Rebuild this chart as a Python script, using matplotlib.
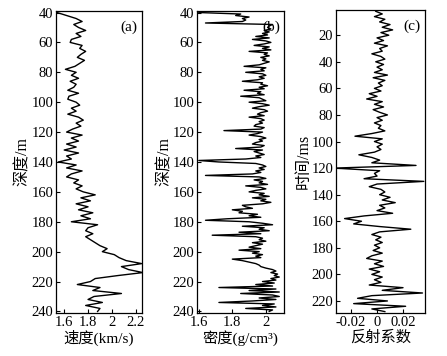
import numpy as np
import matplotlib
matplotlib.use("Agg")
import matplotlib.pyplot as plt

plt.rcParams['font.family'] = ['Liberation Serif', 'Noto Sans CJK SC']
plt.rcParams['font.size'] = 10.5

# (a) velocity log, km/s, every 2 m from 40 to 240 m
depth_a = np.arange(40, 241, 2)
vel = [1.54, 1.62, 1.70, 1.75, 1.68,
       1.72, 1.78, 1.70, 1.74, 1.66,
       1.65, 1.75, 1.73, 1.78, 1.74,
       1.71, 1.77, 1.73, 1.69, 1.61,
       1.70, 1.66, 1.72, 1.65, 1.70,
       1.68, 1.63, 1.72, 1.64, 1.63,
       1.70, 1.73, 1.66, 1.70, 1.63,
       1.72, 1.76, 1.70, 1.74, 1.67,
       1.62, 1.75, 1.66, 1.72, 1.62,
       1.70, 1.60, 1.72, 1.62, 1.66,
       1.55, 1.70, 1.62, 1.75, 1.66,
       1.62, 1.72, 1.68, 1.75, 1.70,
       1.76, 1.86, 1.74, 1.82, 1.70,
       1.80, 1.72, 1.84, 1.74, 1.82,
       1.66, 1.88, 1.80, 1.78, 1.84,
       1.78, 1.82, 1.86, 1.90, 1.96,
       1.92, 2.02, 2.06, 2.12, 2.25,
       2.08, 2.14, 2.26, 2.05, 1.86,
       1.82, 1.71, 1.90, 1.84, 2.08,
       1.85, 1.80, 1.92, 1.78, 1.90,
       1.88]

# (b) density log, g/cm3, every 1 m from 40 to 240 m
depth_b = np.arange(40, 241, 1)
dens = [1.60, 1.85, 1.82, 1.90, 1.86, 1.88, 1.86, 1.64, 2.04, 2.02,
        2.01, 2.03, 1.99, 2.02, 1.98, 2.01, 1.94, 2.02, 1.92, 2.00,
        2.03, 1.99, 1.93, 2.02, 1.98, 2.03, 1.90, 2.01, 1.99, 2.02,
        1.97, 2.00, 1.98, 2.02, 1.99, 1.96, 1.87, 2.00, 1.97, 1.99,
        1.88, 1.98, 2.00, 1.96, 1.99, 1.95, 1.86, 1.98, 1.97, 2.01,
        1.96, 1.99, 1.87, 1.97, 1.95, 1.99, 1.85, 1.96, 1.98, 2.00,
        1.90, 1.98, 2.02, 1.96, 1.92, 1.99, 2.01, 1.97, 1.95, 1.99,
        1.90, 1.97, 1.99, 1.96, 1.98, 1.94, 1.93, 1.99, 1.97, 1.75,
        1.98, 1.95, 1.90, 1.97, 2.00, 1.96, 1.98, 1.94, 1.92, 1.99,
        1.97, 1.82, 1.98, 1.93, 1.96, 1.99, 1.94, 1.97, 1.88, 1.60,
        1.72, 1.94, 1.98, 2.00, 1.96, 1.99, 1.94, 1.97, 1.92, 1.64,
        1.96, 2.00, 1.93, 1.98, 1.96, 2.01, 1.88, 1.97, 2.00, 1.94,
        1.90, 1.99, 1.96, 2.02, 1.92, 2.00, 1.97, 2.03, 1.98, 1.86,
        1.88, 1.92, 1.80, 1.86, 1.84, 1.95, 1.90, 1.97, 1.77, 1.64,
        1.90, 1.98, 2.04, 1.86, 1.99, 1.96, 2.02, 1.84, 1.97, 1.68,
        1.94, 1.98, 1.96, 2.00, 1.92, 1.98, 1.94, 1.90, 1.97, 1.84,
        1.96, 1.92, 1.98, 1.94, 1.97, 1.80, 1.86, 1.90, 1.94, 1.96,
        1.97, 2.00, 2.04, 2.06, 2.03, 2.07, 2.05, 2.08, 2.03, 2.06,
        1.98, 2.05, 1.94, 2.04, 1.72, 2.06, 1.90, 2.08, 1.85, 2.04,
        2.08, 1.96, 2.06, 1.92, 1.72, 2.05, 1.98, 2.06, 1.88, 2.04,
        2.02]

# (c) reflection coefficient, every 2 ms from 2 to 228 ms
time_c = np.arange(2, 229, 2)
refl = [-0.001, 0.004, -0.002, 0.006, 0.002, 0.010, 0.004, 0.012, 0.003, 0.009,
        0.000, 0.005, -0.002, 0.008, 0.002, 0.004, -0.004, 0.003, 0.006, -0.001,
        0.005, 0.000, 0.004, -0.002, 0.008, -0.003, 0.006, 0.001, 0.004, -0.002,
        0.003, -0.006, 0.000, -0.008, 0.004, -0.002, 0.005, -0.003, 0.002, 0.008,
        0.000, 0.004, -0.002, 0.003, 0.001, 0.006, -0.004, -0.017, 0.004, -0.002,
        0.004, 0.000, 0.003, -0.002, -0.014, -0.004, 0.002, -0.004, 0.030, -0.033,
        0.002, -0.002, 0.000, -0.010, 0.036, 0.000, -0.006, 0.003, 0.006, 0.002,
        0.010, 0.004, 0.014, 0.002, 0.006, 0.000, 0.012, -0.010, -0.025, -0.012,
        -0.018, 0.002, 0.026, 0.002, -0.004, 0.003, -0.001, 0.004, -0.002, 0.002,
        -0.003, 0.004, -0.004, -0.008, 0.004, -0.002, 0.005, -0.006, 0.002, -0.004,
        0.004, -0.002, 0.003, -0.006, 0.020, 0.004, 0.035, -0.004, -0.015, 0.008,
        -0.018, 0.022, -0.004, 0.006]

fig = plt.figure(figsize=(4.47, 3.56), dpi=100)
ax1 = fig.add_axes([0.125, 0.121, 0.192, 0.848])
ax2 = fig.add_axes([0.441, 0.121, 0.195, 0.848])
ax3 = fig.add_axes([0.752, 0.121, 0.199, 0.851])

ax1.plot(vel, depth_a, color='black', lw=1.0)
ax1.set_xlim(1.53, 2.25)
ax1.set_ylim(241, 39)
ax1.set_xticks([1.6, 1.8, 2.0, 2.2])
ax1.set_xticklabels(['1.6', '1.8', '2', '2.2'])
ax1.set_yticks(range(40, 241, 20))
ax1.set_ylabel('深度/m', fontsize=11.5, labelpad=0)
ax1.set_xlabel('速度(km/s)', fontsize=11, labelpad=1)
ax1.text(0.95, 0.97, '(a)', transform=ax1.transAxes, ha='right', va='top', fontsize=11)

ax2.plot(dens, depth_b, color='black', lw=1.0)
ax2.set_xlim(1.59, 2.11)
ax2.set_ylim(241, 39)
ax2.set_xticks([1.6, 1.8, 2.0])
ax2.set_xticklabels(['1.6', '1.8', '2'])
ax2.set_yticks(range(40, 241, 20))
ax2.set_ylabel('深度/m', fontsize=11.5, labelpad=0)
ax2.set_xlabel('密度(g/cm³)', fontsize=11, labelpad=1)
ax2.text(0.95, 0.97, '(b)', transform=ax2.transAxes, ha='right', va='top', fontsize=11)

ax3.plot(refl, time_c, color='black', lw=1.0)
ax3.set_xlim(-0.0315, 0.037)
ax3.set_ylim(229, 1)
ax3.set_xticks([-0.02, 0, 0.02])
ax3.set_xticklabels(['-0.02', '0', '0.02'])
ax3.set_yticks(range(20, 221, 20))
ax3.set_ylabel('时间/ms', fontsize=11.5, labelpad=0)
ax3.set_xlabel('反射系数', fontsize=11, labelpad=1)
ax3.text(0.95, 0.97, '(c)', transform=ax3.transAxes, ha='right', va='top', fontsize=11)

for ax in (ax1, ax2, ax3):
    ax.tick_params(direction='in', length=3, pad=2, width=0.8)
    for s in ax.spines.values():
        s.set_linewidth(0.9)

fig.savefig('out.png', dpi=100)
